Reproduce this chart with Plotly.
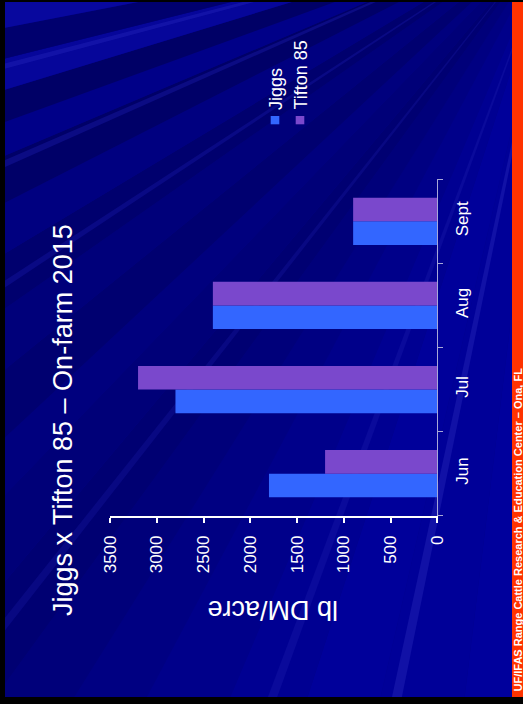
import math
import plotly.graph_objects as go

# Canvas size (pixels)
W, H = 523, 704

# ---- data -------------------------------------------------------------
months = ["Jun", "Jul", "Aug", "Sept"]
jiggs = [1800, 2800, 2400, 900]
tifton85 = [1200, 3200, 2400, 900]
series_names = ["Jiggs", "Tifton 85"]
series_colors = ["#3366FF", "#7A48CC"]
value_ticks = [0, 500, 1000, 1500, 2000, 2500, 3000, 3500]

title_text = "Jiggs x Tifton 85 \u2013 On-farm 2015"
value_title = "lb DM/acre"
footer_text = "UF/IFAS Range Cattle Research & Education Center \u2013 Ona, FL"

FONT = "Arial, Liberation Sans, Helvetica, sans-serif"


def px(x):
    return x / W


def py(y):
    return 1 - y / H


# ---- background rays fanning out from the upper right ----------------
FX, FY = 560, -80
R = 2000
rays = [
    # (start angle, end angle, colour) ; angles in screen degrees
    (85, 97, "#00009c"),
    (97, 103, "#000098"),
    (103, 108, "#00009a"),
    (108, 113, "#000092"),
    (113, 118, "#00008a"),
    (118, 122, "#000082"),
    (122, 126, "#00007a"),
    (126, 130, "#000072"),
    (130, 134, "#000078"),
    (134, 137, "#00007e"),
    (137, 141, "#000070"),
    (141, 145, "#00007a"),
    (145, 149, "#00006e"),
    (149, 153, "#000080"),
    (153, 157, "#000068"),
    (157, 160, "#000088"),
    (160, 163, "#000066"),
    (163, 166, "#06069a"),
    (166, 169, "#00006e"),
    (169, 172, "#08089e"),
    (172, 176, "#00007c"),
    (176, 185, "#00009c"),
]
# thin light streaks
streaks = [
    (101.5, 102.2, "#3030c0", 0.35),
    (110.0, 110.6, "#2020b0", 0.30),
    (128.0, 128.5, "#1a1aa8", 0.30),
    (146.5, 147.0, "#1a1ab0", 0.35),
    (156.0, 156.6, "#2020b8", 0.35),
    (165.0, 165.5, "#2a2ac0", 0.35),
]


def wedge(a0, a1):
    pts = [(FX, FY)]
    for a in (a0, a1):
        r = math.radians(a)
        pts.append((FX + R * math.cos(r), FY + R * math.sin(r)))
    return "M " + " L ".join(f"{px(x):.4f},{py(y):.4f}" for x, y in pts) + " Z"


shapes = []
for a0, a1, col in rays:
    shapes.append(dict(type="path", xref="paper", yref="paper", path=wedge(a0, a1),
                       fillcolor=col, line=dict(width=0), layer="below"))
for a0, a1, col, op in streaks:
    shapes.append(dict(type="path", xref="paper", yref="paper", path=wedge(a0, a1),
                       fillcolor=col, opacity=op, line=dict(width=0), layer="below"))

# footer strip and frame
shapes.append(dict(type="rect", xref="paper", yref="paper", x0=px(512), x1=px(530),
                   y0=py(705), y1=py(-5), fillcolor="#FF3300", line=dict(width=0), layer="below"))
for x0, y0, x1, y1 in [(-5, -5, 5, 710), (-5, -5, 530, 2), (-5, 697, 530, 710)]:
    shapes.append(dict(type="rect", xref="paper", yref="paper", x0=px(x0), x1=px(x1),
                       y0=py(y1), y1=py(y0), fillcolor="#000000", line=dict(width=0),
                       layer="above"))

# ---- bars -----------------------------------------------------------
fig = go.Figure()
for name, vals, col in zip(series_names, [jiggs, tifton85], series_colors):
    fig.add_trace(go.Bar(x=vals, y=months, orientation="h", name=name,
                         marker=dict(color=col, line=dict(width=0))))

# ---- legend drawn as rotated labels -----------------------------------
annotations = []
legend_x = [275, 300]
for name, col, lx in zip(series_names, series_colors, legend_x):
    shapes.append(dict(type="rect", xref="paper", yref="paper",
                       x0=px(lx - 4.3), x1=px(lx + 4.3), y0=py(124.3), y1=py(116),
                       fillcolor=col, line=dict(width=0)))
    annotations.append(dict(text=name, textangle=-90, x=px(lx + 1), y=py(112),
                            xref="paper", yref="paper", xanchor="center", yanchor="bottom",
                            showarrow=False, font=dict(family=FONT, size=18, color="white")))

annotations.append(dict(text=title_text, textangle=-90, x=px(63), y=py(420),
                        xref="paper", yref="paper", xanchor="center", yanchor="middle",
                        showarrow=False, font=dict(family=FONT, size=27, color="white")))
annotations.append(dict(text=value_title, textangle=180, x=px(273), y=py(610),
                        xref="paper", yref="paper", xanchor="center", yanchor="middle",
                        showarrow=False, font=dict(family=FONT, size=27, color="white")))
annotations.append(dict(text="<b>" + footer_text + "</b>", textangle=-90, x=px(517.5),
                        y=py(694), xref="paper", yref="paper", xanchor="center",
                        yanchor="bottom", showarrow=False,
                        font=dict(family=FONT, size=11, color="white")))

fig.update_layout(
    width=W, height=H,
    margin=dict(l=0, r=0, t=0, b=0),
    paper_bgcolor="#000088",
    plot_bgcolor="rgba(0,0,0,0)",
    barmode="group",
    bargap=0.437,
    bargroupgap=0,
    showlegend=False,
    shapes=shapes,
    annotations=annotations,
    font=dict(family=FONT, color="white"),
    xaxis=dict(
        domain=[px(110), px(437.3)],
        range=[3500, 0],
        automargin=False,
        tickvals=value_ticks,
        ticktext=[str(v) for v in value_ticks],
        tickangle=-90,
        tickfont=dict(family=FONT, size=17, color="white"),
        showgrid=False, zeroline=False,
        showline=True, linecolor="white", linewidth=2,
        ticks="outside", ticklen=5, tickwidth=2, tickcolor="white",
        ticklabelstandoff=6,
        fixedrange=True,
    ),
    yaxis=dict(
        domain=[py(515.7), py(179.3)],
        side="right",
        automargin=False,
        categoryorder="array", categoryarray=months,
        tickangle=-90,
        tickfont=dict(family=FONT, size=17, color="white"),
        showgrid=False, zeroline=False,
        showline=True, linecolor="#a8a8d8", linewidth=1,
        ticks="outside", ticklen=5, tickwidth=1, tickcolor="#a8a8d8",
        tickson="boundaries",
        ticklabelstandoff=9,
        fixedrange=True,
    ),
)

fig.write_html("out.html")
